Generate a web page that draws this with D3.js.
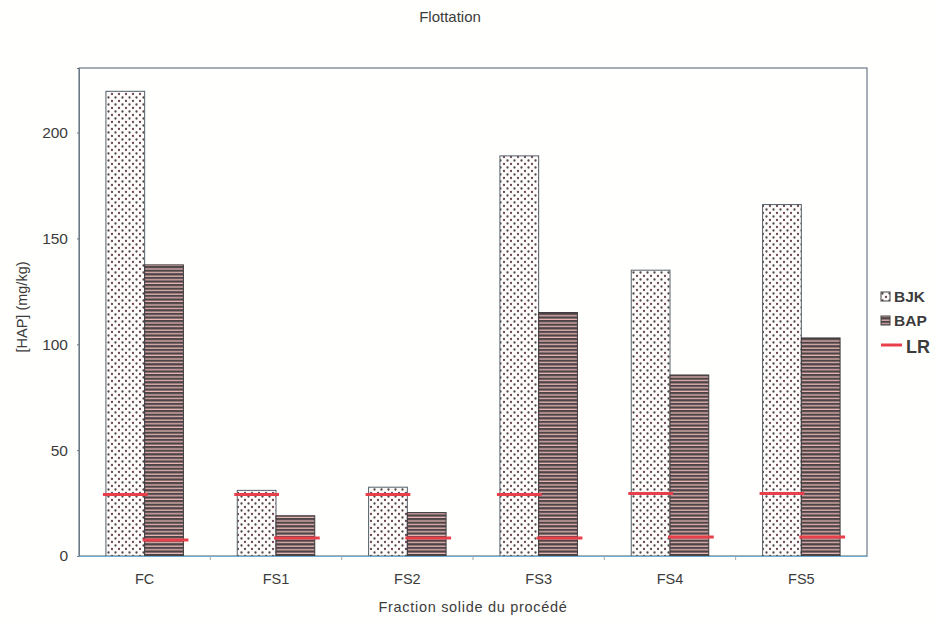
<!DOCTYPE html>
<html>
<head>
<meta charset="utf-8">
<script src="https://cdn.jsdelivr.net/npm/d3@7"></script>
<style>
  body { margin: 0; background: #fffffd; }
  text { font-family: 'Liberation Sans', Arial, sans-serif; fill: #3c3c3c; }
</style>
</head>
<body>
<div id="chart"></div>
<script>
// Data
var categories = ['FC', 'FS1', 'FS2', 'FS3', 'FS4', 'FS5'];
var bjk = [219.5, 31, 32.5, 189, 135, 166];
var bap = [137.5, 19, 20.5, 115, 85.5, 103];
var lrBjk = [29, 29, 29, 29, 29.5, 29.5];
var lrBap = [7.5, 8.5, 8.5, 8.5, 9, 9];
var yTicks = [0, 50, 100, 150, 200];

var width = 935;
var height = 622;
var margins = {left: 79, right: 68, top: 68, bottom: 66};
var plotW = width - margins.left - margins.right;
var plotH = height - margins.top - margins.bottom;

var svg = d3.select('#chart').append('svg')
            .attr('width', width)
            .attr('height', height);

// Patterns: dotted for BJK, horizontal stripes for BAP
var defs = svg.append('defs');
var dots = defs.append('pattern')
               .attr('id', 'dots')
               .attr('patternUnits', 'userSpaceOnUse')
               .attr('width', 7)
               .attr('height', 7);
dots.append('rect').attr('width', 7).attr('height', 7).attr('fill', '#fdfcfa');
dots.append('circle').attr('cx', 1.5).attr('cy', 1.5).attr('r', 1.15).attr('fill', '#4e4448');
dots.append('circle').attr('cx', 5).attr('cy', 5).attr('r', 1.15).attr('fill', '#6a4656');

var stripes = defs.append('pattern')
                  .attr('id', 'stripes')
                  .attr('patternUnits', 'userSpaceOnUse')
                  .attr('width', 4)
                  .attr('height', 3.6);
stripes.append('rect').attr('width', 4).attr('height', 3.6).attr('fill', '#e8b8b4');
stripes.append('rect').attr('width', 4).attr('height', 2.3).attr('fill', '#4d4448');

var g = svg.append('g')
           .attr('transform', 'translate(' + margins.left + ',' + margins.top + ')');

var x = d3.scaleBand()
          .domain(categories)
          .range([0, plotW])
          .paddingInner(0.41)
          .paddingOuter(0.205);

var y = d3.scaleLinear()
          .domain([0, 230.5])
          .range([plotH, 0]);

var barW = x.bandwidth() / 2;

// Frame
g.append('rect')
 .attr('width', plotW)
 .attr('height', plotH)
 .attr('fill', 'none')
 .attr('stroke', '#6b7a86')
 .attr('stroke-width', 1.2);

// Bars
g.selectAll('rect.bjk')
 .data(bjk)
 .enter()
 .append('rect')
 .attr('class', 'bjk')
 .attr('x', function(d, i) { return x(categories[i]); })
 .attr('y', function(d) { return y(d); })
 .attr('width', barW)
 .attr('height', function(d) { return plotH - y(d); })
 .attr('fill', 'url(#dots)')
 .attr('stroke', '#55606a')
 .attr('stroke-width', 1);

g.selectAll('rect.bap')
 .data(bap)
 .enter()
 .append('rect')
 .attr('class', 'bap')
 .attr('x', function(d, i) { return x(categories[i]) + barW; })
 .attr('y', function(d) { return y(d); })
 .attr('width', barW)
 .attr('height', function(d) { return plotH - y(d); })
 .attr('fill', 'url(#stripes)')
 .attr('stroke', '#3e3a3c')
 .attr('stroke-width', 1);

// LR lines
g.selectAll('line.lrbjk')
 .data(lrBjk)
 .enter()
 .append('line')
 .attr('class', 'lrbjk')
 .attr('x1', function(d, i) { return x(categories[i]) - 3; })
 .attr('x2', function(d, i) { return x(categories[i]) + barW + 3; })
 .attr('y1', function(d) { return y(d); })
 .attr('y2', function(d) { return y(d); })
 .attr('stroke', '#e8404a')
 .attr('stroke-width', 3);

g.selectAll('line.lrbap')
 .data(lrBap)
 .enter()
 .append('line')
 .attr('class', 'lrbap')
 .attr('x1', function(d, i) { return x(categories[i]) + barW - 2; })
 .attr('x2', function(d, i) { return x(categories[i]) + 2 * barW + 5; })
 .attr('y1', function(d) { return y(d); })
 .attr('y2', function(d) { return y(d); })
 .attr('stroke', '#e8404a')
 .attr('stroke-width', 3);

// Axes
var yAxis = d3.axisLeft(y)
              .tickValues(yTicks)
              .tickSize(2)
              .tickPadding(9);
var yg = g.append('g').call(yAxis);
yg.select('.domain').attr('stroke', '#6b7a86');
yg.selectAll('.tick line').attr('stroke', '#6b7a86');
yg.selectAll('.tick text')
  .attr('font-size', 15.5)
  .style('font-family', "'Liberation Sans', Arial, sans-serif")
  .attr('fill', '#3c3c3c');

var xAxis = d3.axisBottom(x).tickSize(0).tickPadding(18);
var xg = g.append('g')
          .attr('transform', 'translate(0,' + plotH + ')')
          .call(xAxis);
xg.select('.domain').attr('stroke', '#6aaed0').attr('stroke-width', 1.2);
xg.selectAll('.tick text')
  .attr('font-size', 14.5)
  .style('font-family', "'Liberation Sans', Arial, sans-serif")
  .attr('fill', '#3c3c3c');

// small ticks at band boundaries
g.selectAll('line.sep')
 .data(categories.slice(1))
 .enter()
 .append('line')
 .attr('class', 'sep')
 .attr('x1', function(d) { return x(d) - x.step() * x.paddingInner() / 2; })
 .attr('x2', function(d) { return x(d) - x.step() * x.paddingInner() / 2; })
 .attr('y1', plotH)
 .attr('y2', plotH + 4)
 .attr('stroke', '#9aa');

// Titles
svg.append('text')
   .attr('x', 450)
   .attr('y', 22)
   .attr('text-anchor', 'middle')
   .attr('font-size', 15)
   .text('Flottation');

svg.append('text')
   .attr('x', margins.left + plotW / 2)
   .attr('y', 612)
   .attr('text-anchor', 'middle')
   .attr('font-size', 14.5)
   .style('letter-spacing', '0.7px')
   .text('Fraction solide du procédé');

svg.append('text')
   .attr('transform', 'translate(27,' + (margins.top + plotH / 2 - 5) + ') rotate(-90)')
   .attr('text-anchor', 'middle')
   .attr('font-size', 14.5)
   .text('[HAP] (mg/kg)');

// Legend
var legend = svg.append('g').attr('transform', 'translate(881,292)');
legend.append('rect')
      .attr('x', 0).attr('y', 0).attr('width', 9).attr('height', 9)
      .attr('fill', 'url(#dots)').attr('stroke', '#444');
legend.append('text')
      .attr('x', 13).attr('y', 10).attr('font-size', 15.5).attr('font-weight', 'bold').text('BJK');
legend.append('rect')
      .attr('x', 0).attr('y', 24).attr('width', 9).attr('height', 9)
      .attr('fill', 'url(#stripes)').attr('stroke', '#444');
legend.append('text')
      .attr('x', 13).attr('y', 34).attr('font-size', 15.5).attr('font-weight', 'bold').text('BAP');
legend.append('line')
      .attr('x1', 0).attr('x2', 21).attr('y1', 53).attr('y2', 53)
      .attr('stroke', '#e8404a').attr('stroke-width', 3);
legend.append('text')
      .attr('x', 25).attr('y', 61).attr('font-size', 18).attr('font-weight', 'bold').text('LR');
</script>
</body>
</html>
